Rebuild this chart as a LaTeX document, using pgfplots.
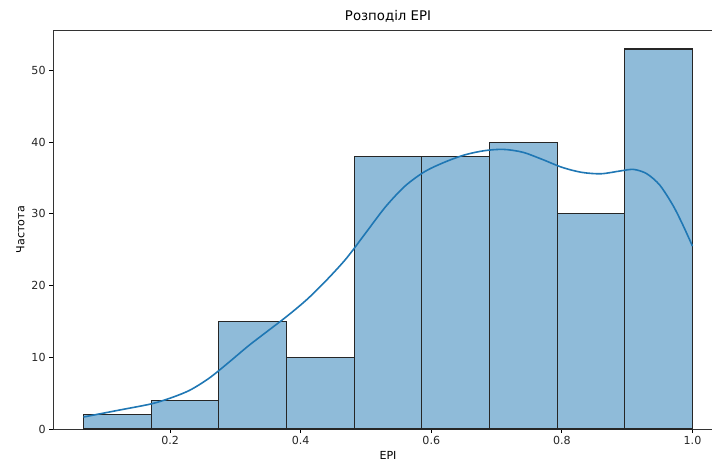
\documentclass[border=0pt]{standalone}
\usepackage{fontspec}
\setmainfont{DejaVu Sans}
\usepackage{pgfplots}
\pgfplotsset{compat=1.18}
\definecolor{barfill}{RGB}{143,187,217}
\definecolor{kde}{RGB}{31,119,180}
\definecolor{edge}{RGB}{38,38,38}
\begin{document}
\begin{tikzpicture}
\begin{axis}[name=ax, scale only axis, width=670pt, height=399pt,
  xmin=0.0207, xmax=1.0467, ymin=0, ymax=55.65,
  xtick={0.2,0.4,0.6,0.8,1.0}, ytick={0,10,20,30,40,50},
  /pgf/number format/assume math mode=true,
  xticklabel style={/pgf/number format/.cd, fixed, fixed zerofill, precision=1},
  tick label style={font=\fontsize{11.1}{13}\selectfont, text=black!85},
  label style={font=\fontsize{11.1}{13}\selectfont},
  title style={font=\fontsize{13.3}{15}\selectfont, yshift=-2pt},
  title={Розподіл EPI},
  xlabel={EPI}, ylabel={Частота},
  tick align=outside, major tick length=3.9pt,
  xtick pos=bottom, ytick pos=left,
  tick style={black, line width=0.9pt},
  axis line style={black!80, line width=0.9pt},
  clip=false,
]
\addplot[ybar interval, fill=barfill, draw=edge, line width=1.1pt] table {
x y
0.0674 2
0.1710 4
0.2746 15
0.3783 10
0.4819 38
0.5855 38
0.6891 40
0.7928 30
0.8964 53
1.0000 53
};
\addplot[kde, line width=1.6pt, smooth, tension=0.5, mark=none] table {
x y
0.0674 1.67
0.12 2.6
0.171 3.5
0.20 4.3
0.23 5.4
0.26 7.1
0.29 9.3
0.32 11.6
0.35 13.7
0.38 15.8
0.41 18.1
0.44 20.8
0.47 23.8
0.50 27.4
0.53 31.0
0.56 33.9
0.59 35.9
0.62 37.2
0.65 38.2
0.68 38.8
0.71 39.0
0.74 38.6
0.77 37.6
0.80 36.5
0.83 35.8
0.86 35.6
0.89 36.0
0.91 36.2
0.93 35.6
0.95 34.0
0.97 31.2
0.985 28.5
1.0 25.5
};
\end{axis}
\pgfresetboundingbox
\path[use as bounding box] ([shift={(-53pt,-39pt)}]ax.south west) rectangle ([shift={(-11pt,30pt)}]ax.north east);
\end{tikzpicture}
\end{document}
